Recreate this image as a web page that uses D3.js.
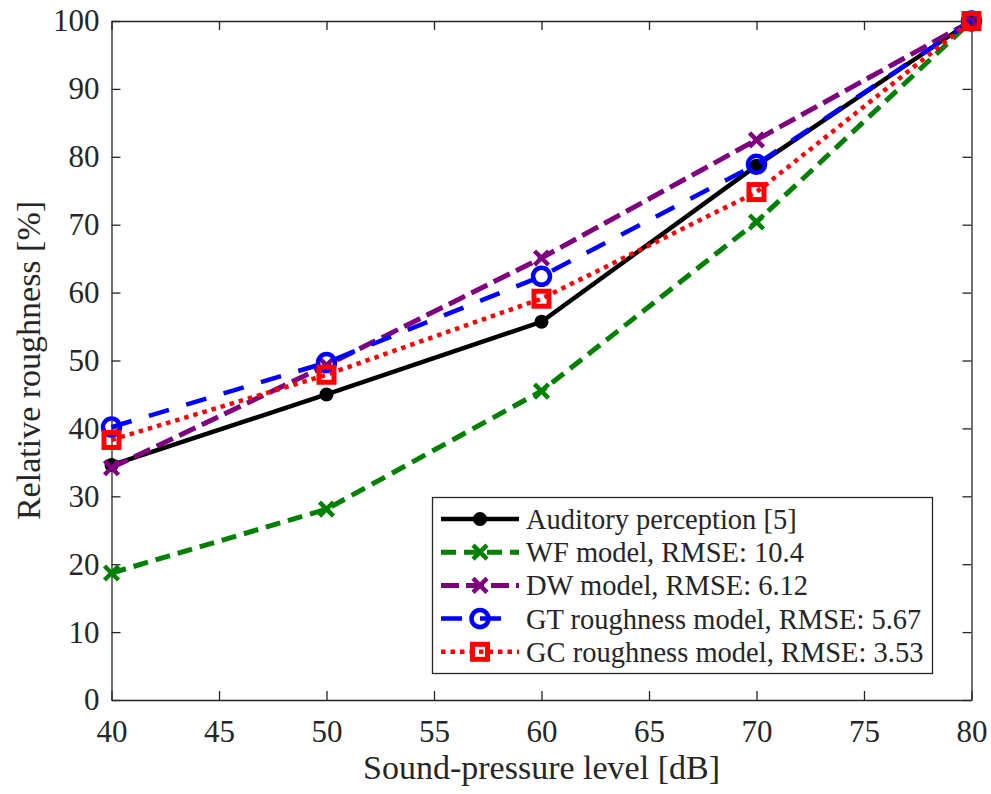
<!DOCTYPE html>
<html>
<head>
<meta charset="UTF-8">
<title></title>
<style type="text/css">
	body { margin: 0; background: #fff; }
	svg text { font-family: "Liberation Serif", "Times New Roman", serif; fill: #262626; }
</style>
</head>
<body>
<div class="chartBox"></div>
<script src="https://cdn.jsdelivr.net/npm/d3@7"></script>
<script type="text/javascript">
	// data
	var levels = [40, 50, 60, 70, 80];
	var auditory = [34.6, 45.0, 55.7, 78.7, 100];
	var wfModel = [18.7, 28.1, 45.5, 70.4, 100];
	var dwModel = [34.2, 49.3, 65.1, 82.5, 100];
	var gtModel = [40.2, 49.7, 62.4, 78.9, 100];
	var gcModel = [38.3, 47.9, 59.1, 74.8, 100];
	var xTicks = [40, 45, 50, 55, 60, 65, 70, 75, 80];
	var yTicks = [0, 10, 20, 30, 40, 50, 60, 70, 80, 90, 100];

	var series = [
		{ name: "Auditory perception [5]", values: auditory, color: "#000000", dash: null, marker: "dot", width: 4.5 },
		{ name: "WF model, RMSE: 10.4", values: wfModel, color: "#008000", dash: "15,8", marker: "x", width: 5 },
		{ name: "DW model, RMSE: 6.12", values: dwModel, color: "#7e007e", dash: "18,7", marker: "x", width: 5 },
		{ name: "GT roughness model, RMSE: 5.67", values: gtModel, color: "#0000ff", dash: "21,18", marker: "circle", width: 4.5 },
		{ name: "GC roughness model, RMSE: 3.53", values: gcModel, color: "#ff0000", dash: "4.5,5", marker: "square", width: 4.5 }
	];

	var width = 991, height = 794;
	var mLeft = 111.5, mRight = 971.5, mTop = 21, mBottom = 700;

	var svg = d3.select(".chartBox").append("svg")
		.attr("width", width)
		.attr("height", height);

	var x = d3.scaleLinear().domain([40, 80]).range([mLeft, mRight]);
	var y = d3.scaleLinear().domain([0, 100]).range([mBottom, mTop]);

	// axes (ticks inside, box on all sides)
	var axisColor = "#262626";
	function styleAxis(g) {
		g.select(".domain").attr("stroke", axisColor).attr("stroke-width", 1.3);
		g.selectAll(".tick line").attr("stroke", axisColor).attr("stroke-width", 1.3);
		g.selectAll(".tick text").style("font-size", "31px").attr("fill", axisColor);
	}
	svg.append("g").attr("transform", "translate(0," + mBottom + ")")
		.call(d3.axisBottom(x).tickValues(xTicks).tickSizeInner(-9).tickSizeOuter(0).tickPadding(20))
		.call(styleAxis);
	svg.append("g").attr("transform", "translate(" + mLeft + ",0)")
		.call(d3.axisLeft(y).tickValues(yTicks).tickSizeInner(-9).tickSizeOuter(0).tickPadding(12))
		.call(styleAxis);
	svg.append("g").attr("transform", "translate(0," + mTop + ")")
		.call(d3.axisTop(x).tickValues(xTicks).tickSizeInner(-9).tickSizeOuter(0).tickFormat(""))
		.call(styleAxis);
	svg.append("g").attr("transform", "translate(" + mRight + ",0)")
		.call(d3.axisRight(y).tickValues(yTicks).tickSizeInner(-9).tickSizeOuter(0).tickFormat(""))
		.call(styleAxis);

	// axis labels
	svg.append("text")
		.attr("x", (mLeft + mRight) / 2).attr("y", 779)
		.attr("text-anchor", "middle")
		.style("font-size", "34px")
		.text("Sound-pressure level [dB]");
	svg.append("text")
		.attr("transform", "translate(40," + (mTop + mBottom) / 2 + ") rotate(-90)")
		.attr("text-anchor", "middle")
		.style("font-size", "34px")
		.text("Relative roughness [%]");

	var line = d3.line()
		.x(function(d, i) { return x(levels[i]); })
		.y(function(d) { return y(d); });

	// draw marker shape at (cx, cy)
	function drawMarker(g, s, cx, cy) {
		if (s.marker === "dot") {
			g.append("circle").attr("cx", cx).attr("cy", cy).attr("r", 7).attr("fill", s.color);
		} else if (s.marker === "x") {
			var r = 7;
			g.append("path")
				.attr("d", "M" + (cx - r) + "," + (cy - r) + "L" + (cx + r) + "," + (cy + r) +
					"M" + (cx - r) + "," + (cy + r) + "L" + (cx + r) + "," + (cy - r))
				.attr("stroke", s.color).attr("stroke-width", 4.5).attr("fill", "none");
		} else if (s.marker === "circle") {
			g.append("circle").attr("cx", cx).attr("cy", cy).attr("r", 8.5)
				.attr("fill", "none").attr("stroke", s.color).attr("stroke-width", 4.5);
		} else if (s.marker === "square") {
			g.append("rect").attr("x", cx - 7.5).attr("y", cy - 7.5).attr("width", 15).attr("height", 15)
				.attr("fill", "none").attr("stroke", s.color).attr("stroke-width", 5);
		}
	}

	var plot = svg.append("g");
	series.forEach(function(s) {
		var g = plot.append("g");
		g.append("path")
			.datum(s.values)
			.attr("d", line)
			.attr("fill", "none")
			.attr("stroke", s.color)
			.attr("stroke-width", s.width)
			.attr("stroke-dasharray", s.dash);
		s.values.forEach(function(v, i) {
			drawMarker(g, s, x(levels[i]), y(v));
		});
	});

	// legend
	var lg = svg.append("g");
	lg.append("rect")
		.attr("x", 432.5).attr("y", 497.5).attr("width", 500).attr("height", 176)
		.attr("fill", "#fff").attr("stroke", axisColor).attr("stroke-width", 1.3);
	series.forEach(function(s, i) {
		var ry = 519 + i * 33.2;
		var x1 = 441, x2 = s.marker === "circle" ? 502 : 519;
		lg.append("line")
			.attr("x1", x1).attr("x2", x2).attr("y1", ry).attr("y2", ry)
			.attr("stroke", s.color).attr("stroke-width", s.width)
			.attr("stroke-dasharray", s.dash);
		drawMarker(lg, s, 480, ry);
		lg.append("text")
			.attr("x", 526).attr("y", ry + 10)
			.style("font-size", "28.5px")
			.text(s.name);
	});
</script>
</body>
</html>
